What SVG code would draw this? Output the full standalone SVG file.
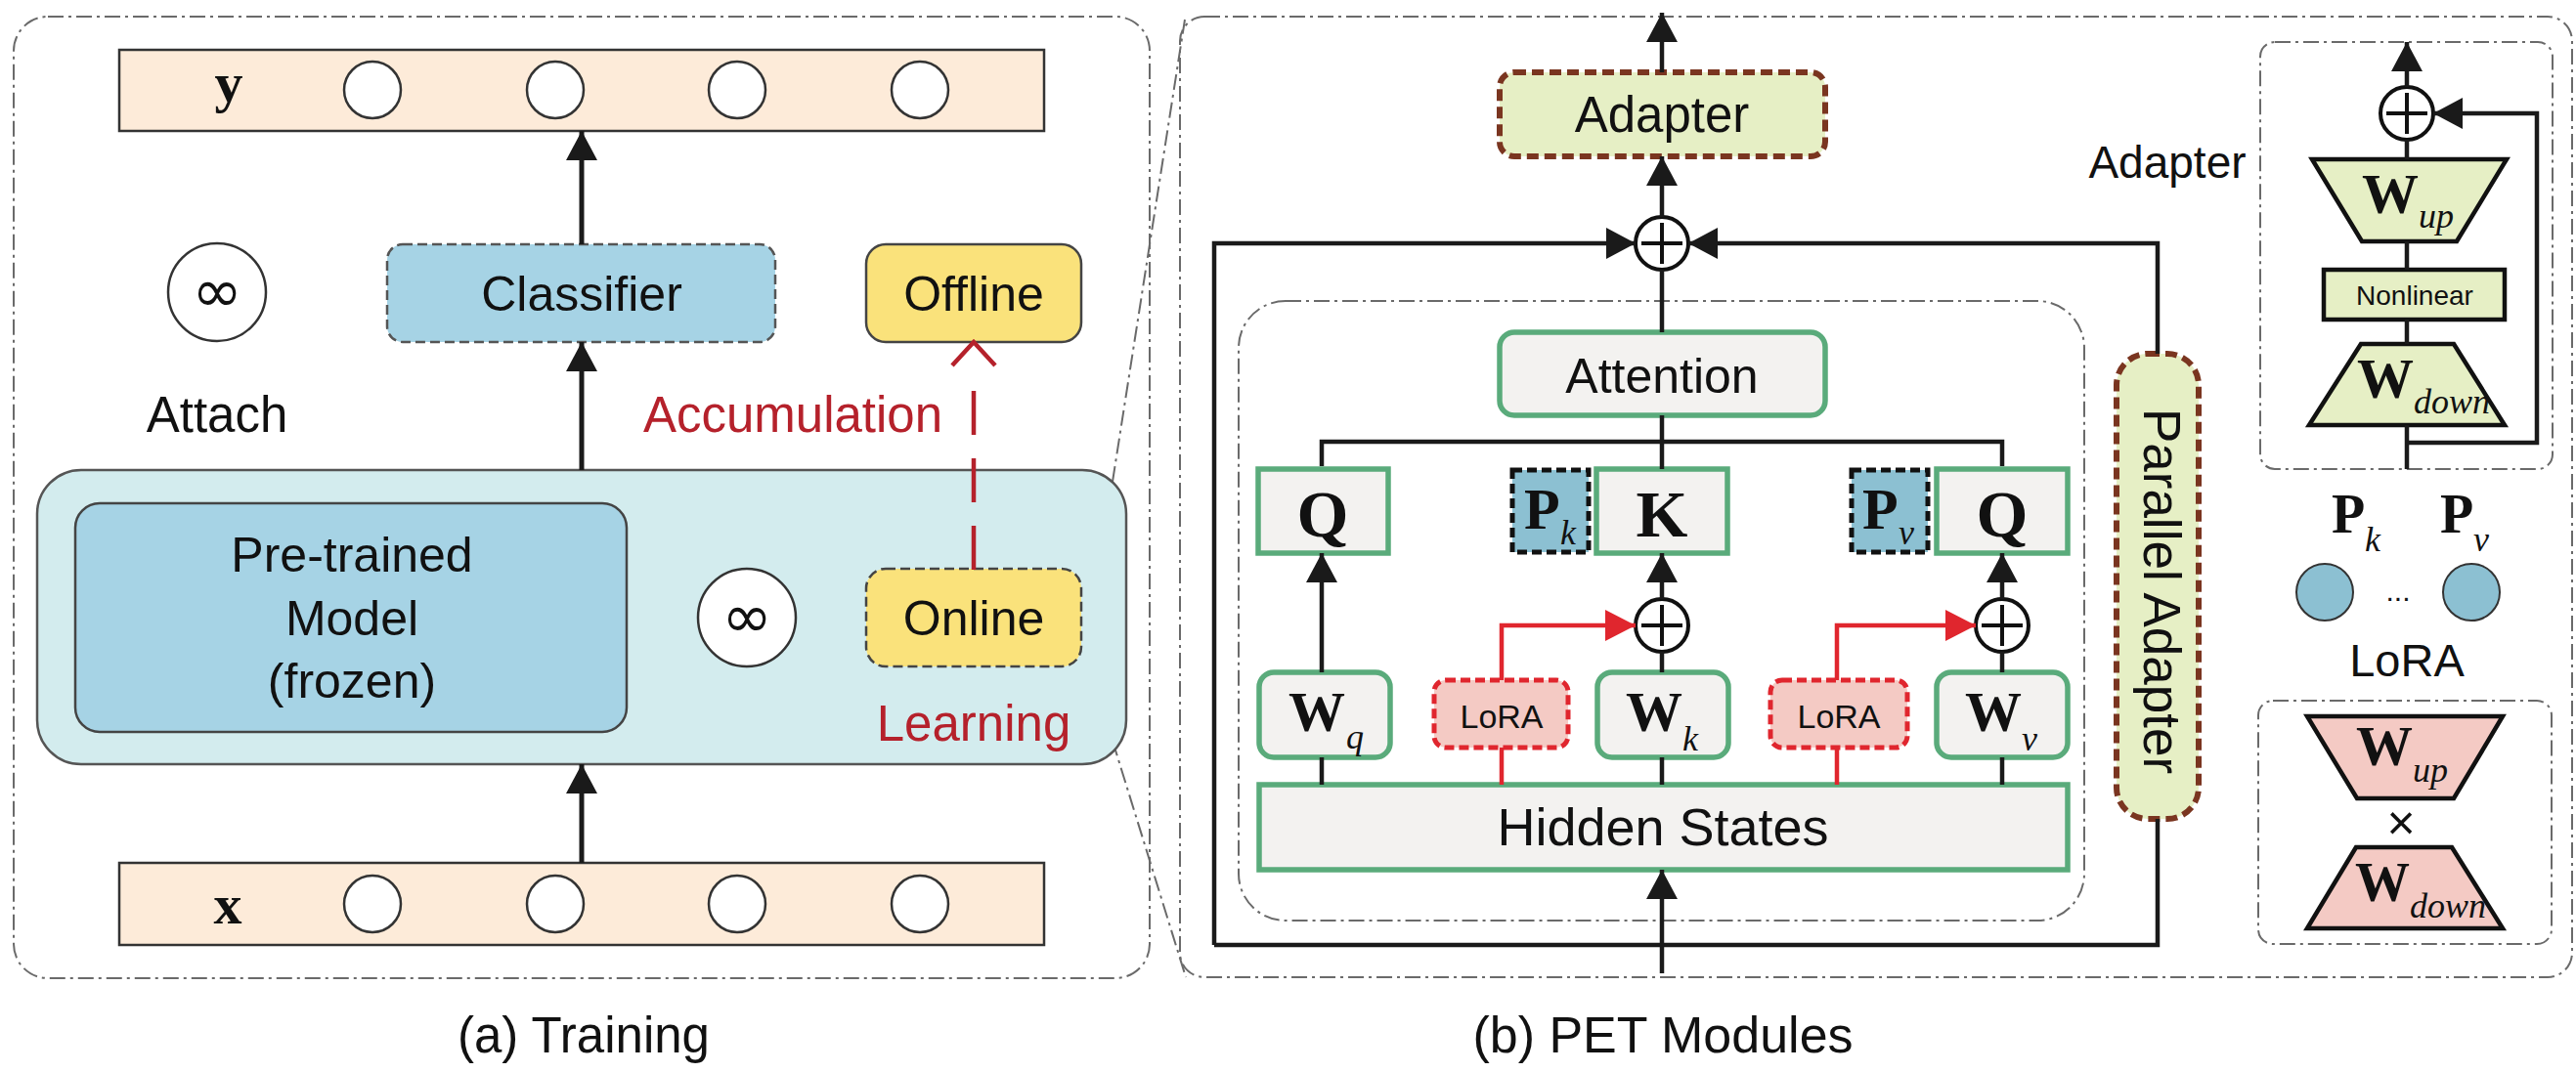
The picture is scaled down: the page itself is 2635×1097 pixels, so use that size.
<svg xmlns="http://www.w3.org/2000/svg" width="2635" height="1097" viewBox="0 0 2635 1097">
<defs>
<marker id="ah" markerUnits="userSpaceOnUse" markerWidth="30" markerHeight="32" refX="30" refY="16" orient="auto"><path d="M0,0 L30,16 L0,32 z" fill="#1a1a1a"/></marker>
<marker id="ahr" markerUnits="userSpaceOnUse" markerWidth="31" markerHeight="32" refX="31" refY="16" orient="auto"><path d="M0,0 L31,16 L0,32 z" fill="#e0262e"/></marker>
</defs>
<style>
.frame{fill:none;stroke:#6a6a6a;stroke-width:2;stroke-dasharray:16 5 3 5}
.row{fill:#fdebd9;stroke:#333;stroke-width:2.5}
.dot{fill:#fff;stroke:#333;stroke-width:2.5}
.ln{fill:none;stroke:#1a1a1a;stroke-width:5}
.lnp{fill:none;stroke:#1a1a1a;stroke-width:4.5}
.red{fill:none;stroke:#e0262e;stroke-width:4.5}
.t{font-family:"Liberation Sans",Arial,sans-serif;fill:#111;text-anchor:middle}
.inf{font-family:"DejaVu Sans",sans-serif;fill:#111;text-anchor:middle}
.rt{fill:#b5212b}
.sb{font-family:"Liberation Serif","Times New Roman",serif;font-weight:bold;fill:#111}
.si{font-family:"Liberation Serif","Times New Roman",serif;font-style:italic;font-weight:normal;fill:#111}
.green{fill:#f3f2f0;stroke:#5aab7b;stroke-width:5.5}
.pbox{fill:#8cc0d2;stroke:#111;stroke-width:5;stroke-dasharray:10 5}
.lora{fill:#f4cac4;stroke:#e0262e;stroke-width:5;stroke-dasharray:10 5}
.adp{fill:#e6efc5;stroke:#7a3520;stroke-width:6;stroke-dasharray:12 6}
.trap{stroke:#111;stroke-width:4.5}
</style>

<g id="frames">
<rect id="training-frame" class="frame" x="14" y="17" width="1162" height="984" rx="35"/>
<rect id="pet-frame" class="frame" x="1207" y="17" width="1424" height="983" rx="25"/>
<rect id="pet-inner-frame" class="frame" x="1267" y="308" width="865" height="634" rx="48"/>
<rect id="adapter-frame" class="frame" x="2312" y="43" width="299" height="437" rx="15"/>
<rect id="lora-frame" class="frame" x="2310" y="717" width="300" height="249" rx="15"/>
<line class="frame" x1="1138" y1="493" x2="1212" y2="20"/>
<line class="frame" x1="1138" y1="758" x2="1213" y2="1000"/>
</g>

<g id="y-row">
<rect class="row" x="122" y="51" width="946" height="83"/>
<text class="sb" x="234" y="104" font-size="58" text-anchor="middle">y</text>
<circle class="dot" cx="381" cy="92" r="29"/>
<circle class="dot" cx="568" cy="92" r="29"/>
<circle class="dot" cx="754" cy="92" r="29"/>
<circle class="dot" cx="941" cy="92" r="29"/>
</g>

<g id="x-row">
<rect class="row" x="122" y="883" width="946" height="84"/>
<text class="sb" x="233" y="945" font-size="58" text-anchor="middle">x</text>
<circle class="dot" cx="381" cy="925" r="29"/>
<circle class="dot" cx="568" cy="925" r="29"/>
<circle class="dot" cx="754" cy="925" r="29"/>
<circle class="dot" cx="941" cy="925" r="29"/>
</g>

<g id="attach-inf">
<circle class="dot" cx="222" cy="299" r="50"/>
<text class="inf" x="222" y="319" font-size="62">∞</text>
</g>
<text id="attach-label" class="t" x="222" y="442" font-size="51">Attach</text>

<g id="classifier">
<rect x="396" y="250" width="397" height="100" rx="16" fill="#a6d3e5" stroke="#555" stroke-width="2.5" stroke-dasharray="10 5"/>
<text class="t" x="595" y="318" font-size="50">Classifier</text>
</g>

<g id="offline">
<rect x="886" y="250" width="220" height="100" rx="20" fill="#fae27b" stroke="#444" stroke-width="2.5"/>
<text class="t" x="996" y="318" font-size="50">Offline</text>
</g>

<text id="accumulation-label" class="t rt" x="811" y="442" font-size="51">Accumulation</text>

<g id="backbone">
<rect x="38" y="481" width="1114" height="301" rx="45" fill="#d3ecee" stroke="#555" stroke-width="2.5"/>
</g>
<g id="pretrained">
<rect x="77" y="515" width="564" height="234" rx="25" fill="#a6d3e5" stroke="#444" stroke-width="2.5"/>
<text class="t" x="360" y="585" font-size="50">Pre-trained</text>
<text class="t" x="360" y="650" font-size="50">Model</text>
<text class="t" x="360" y="714" font-size="50">(frozen)</text>
</g>
<g id="online-inf">
<circle class="dot" cx="764" cy="632" r="50"/>
<text class="inf" x="764" y="652" font-size="62">∞</text>
</g>
<g id="online">
<rect x="886" y="582" width="220" height="100" rx="20" fill="#fae27b" stroke="#444" stroke-width="2.5" stroke-dasharray="10 5"/>
<text class="t" x="996" y="650" font-size="50">Online</text>
</g>
<text id="learning-label" class="t rt" x="996" y="758" font-size="51">Learning</text>

<text id="caption-a" class="t" x="597" y="1077" font-size="51">(a) Training</text>

<g id="pet-adapter">
<rect class="adp" x="1534" y="74" width="333" height="86" rx="15"/>
<text class="t" x="1700" y="135" font-size="51">Adapter</text>
</g>
<g id="plus-top">
<circle cx="1700" cy="249" r="27" fill="#fff" stroke="#111" stroke-width="4"/>
<path d="M1679,249 H1721 M1700,228 V270" stroke="#111" stroke-width="4"/>
</g>
<g id="attention">
<rect class="green" x="1534" y="340" width="333" height="85" rx="15"/>
<text class="t" x="1700" y="402" font-size="50">Attention</text>
</g>
<g id="q1">
<rect class="green" x="1287" y="480" width="133" height="86"/>
<text class="sb" x="1353" y="549" font-size="68" text-anchor="middle">Q</text>
</g>
<g id="pk">
<rect class="pbox" x="1547" y="481" width="78" height="84"/>
<text class="sb" x="1559" y="541" font-size="60">P<tspan class="si" x="1596" y="557" font-size="36">k</tspan></text>
</g>
<g id="k">
<rect class="green" x="1633" y="480" width="134" height="86"/>
<text class="sb" x="1700" y="549" font-size="68" text-anchor="middle">K</text>
</g>
<g id="pv">
<rect class="pbox" x="1894" y="481" width="78" height="84"/>
<text class="sb" x="1905" y="541" font-size="60">P<tspan class="si" x="1942" y="557" font-size="36">v</tspan></text>
</g>
<g id="q2">
<rect class="green" x="1981" y="480" width="134" height="86"/>
<text class="sb" x="2048" y="549" font-size="68" text-anchor="middle">Q</text>
</g>
<g id="plus-k">
<circle cx="1700" cy="640" r="27" fill="#fff" stroke="#111" stroke-width="4"/>
<path d="M1679,640 H1721 M1700,619 V661" stroke="#111" stroke-width="4"/>
</g>
<g id="plus-v">
<circle cx="2048" cy="640" r="27" fill="#fff" stroke="#111" stroke-width="4"/>
<path d="M2027,640 H2069 M2048,619 V661" stroke="#111" stroke-width="4"/>
</g>
<g id="wq">
<rect class="green" x="1288" y="688" width="134" height="87" rx="15"/>
<text class="sb" x="1318" y="748" font-size="58">W<tspan class="si" x="1377" y="766" font-size="36">q</tspan></text>
</g>
<g id="lora1">
<rect class="lora" x="1467" y="696" width="137" height="69" rx="12"/>
<text class="t" x="1536" y="745" font-size="34">LoRA</text>
</g>
<g id="wk">
<rect class="green" x="1634" y="688" width="134" height="87" rx="15"/>
<text class="sb" x="1663" y="748" font-size="58">W<tspan class="si" x="1721" y="768" font-size="36">k</tspan></text>
</g>
<g id="lora2">
<rect class="lora" x="1811" y="696" width="140" height="69" rx="12"/>
<text class="t" x="1881" y="745" font-size="34">LoRA</text>
</g>
<g id="wv">
<rect class="green" x="1981" y="688" width="134" height="87" rx="15"/>
<text class="sb" x="2010" y="748" font-size="58">W<tspan class="si" x="2068" y="768" font-size="36">v</tspan></text>
</g>
<g id="hidden-states">
<rect class="green" x="1288" y="803" width="827" height="87"/>
<text class="t" x="1701" y="865" font-size="54">Hidden States</text>
</g>
<g id="parallel-adapter">
<rect class="adp" x="2165" y="362" width="84" height="476" rx="32"/>
<text class="t" transform="translate(2193,605) rotate(90)" font-size="53">Parallel Adapter</text>
</g>
<text id="caption-b" class="t" x="1701" y="1077" font-size="52">(b) PET Modules</text>

<g id="adapter-detail">
<text class="t" x="2217" y="182" font-size="46">Adapter</text>
<circle cx="2462" cy="116" r="27" fill="#fff" stroke="#111" stroke-width="4"/>
<path d="M2441,116 H2483 M2462,95 V137" stroke="#111" stroke-width="4"/>
<polygon class="trap" points="2365,163 2564,163 2513,247 2416,247" fill="#e6efc5"/>
<text class="sb" x="2416" y="218" font-size="58">W<tspan class="si" x="2474" y="233" font-size="36">up</tspan></text>
<rect class="trap" x="2377" y="276" width="185" height="51" fill="#e6efc5"/>
<text class="t" x="2470" y="312" font-size="28">Nonlinear</text>
<polygon class="trap" points="2415,352 2510,352 2562,435 2362,435" fill="#e6efc5"/>
<text class="sb" x="2411" y="407" font-size="58">W<tspan class="si" x="2469" y="423" font-size="36">down</tspan></text>
</g>

<g id="lora-detail">
<text class="sb" x="2385" y="545" font-size="56">P<tspan class="si" x="2419" y="564" font-size="36">k</tspan></text>
<text class="sb" x="2496" y="545" font-size="56">P<tspan class="si" x="2530" y="564" font-size="36">v</tspan></text>
<ellipse cx="2378" cy="606" rx="29" ry="29" fill="#8cc0d2" stroke="#333" stroke-width="2"/>
<ellipse cx="2528" cy="606" rx="29" ry="29" fill="#8cc0d2" stroke="#333" stroke-width="2"/>
<text class="t" x="2453" y="615" font-size="30">...</text>
<text class="t" x="2462" y="692" font-size="47">LoRA</text>
<polygon class="trap" points="2360,733 2560,733 2510,817 2411,817" fill="#f4cac4"/>
<text class="sb" x="2410" y="783" font-size="58">W<tspan class="si" x="2468" y="800" font-size="36">up</tspan></text>
<text class="t" x="2456" y="859" font-size="50">×</text>
<polygon class="trap" points="2410,867 2508,867 2560,950 2360,950" fill="#f4cac4"/>
<text class="sb" x="2409" y="922" font-size="56">W<tspan class="si" x="2465" y="939" font-size="36">down</tspan></text>
</g>

<g id="connectors">
<path class="ln" d="M595,250 V134" marker-end="url(#ah)"/>
<path class="ln" d="M595,481 V350" marker-end="url(#ah)"/>
<path class="ln" d="M595,883 V782" marker-end="url(#ah)"/>
<path d="M996,583 V376" fill="none" stroke="#b5212b" stroke-width="4.5" stroke-dasharray="45 24"/>
<polyline points="974,374 996,350 1018,374" fill="none" stroke="#b5212b" stroke-width="4.5"/>

<path class="lnp" d="M1700,74 V13" marker-end="url(#ah)"/>
<path class="lnp" d="M1700,222 V160" marker-end="url(#ah)"/>
<path class="lnp" d="M1700,340 V276"/>
<path class="lnp" d="M1700,425 V480"/>
<path class="lnp" d="M1352,477 V452 H2048 V477"/>
<path class="lnp" d="M1242,967 V249 H1673" marker-end="url(#ah)"/>
<path class="lnp" d="M2207,362 V249 H1727" marker-end="url(#ah)"/>
<path class="lnp" d="M2207,838 V967 H1242"/>
<path class="lnp" d="M1700,996 V890" marker-end="url(#ah)"/>

<path class="lnp" d="M1352,803 V775"/>
<path class="lnp" d="M1352,688 V566" marker-end="url(#ah)"/>
<path class="lnp" d="M1700,803 V775"/>
<path class="lnp" d="M1700,688 V667"/>
<path class="lnp" d="M1700,613 V566" marker-end="url(#ah)"/>
<path class="lnp" d="M2048,803 V775"/>
<path class="lnp" d="M2048,688 V667"/>
<path class="lnp" d="M2048,613 V566" marker-end="url(#ah)"/>
<path class="red" d="M1536,803 V765"/>
<path class="red" d="M1536,696 V640 H1673" marker-end="url(#ahr)"/>
<path class="red" d="M1879,803 V765"/>
<path class="red" d="M1879,696 V640 H2021" marker-end="url(#ahr)"/>

<path class="lnp" d="M2462,480 V435"/>
<path class="lnp" d="M2462,352 V327"/>
<path class="lnp" d="M2462,276 V247"/>
<path class="lnp" d="M2462,163 V143"/>
<path class="lnp" d="M2462,89 V43" marker-end="url(#ah)"/>
<path class="lnp" d="M2462,453 H2595 V116 H2489" marker-end="url(#ah)"/>
</g>
</svg>
